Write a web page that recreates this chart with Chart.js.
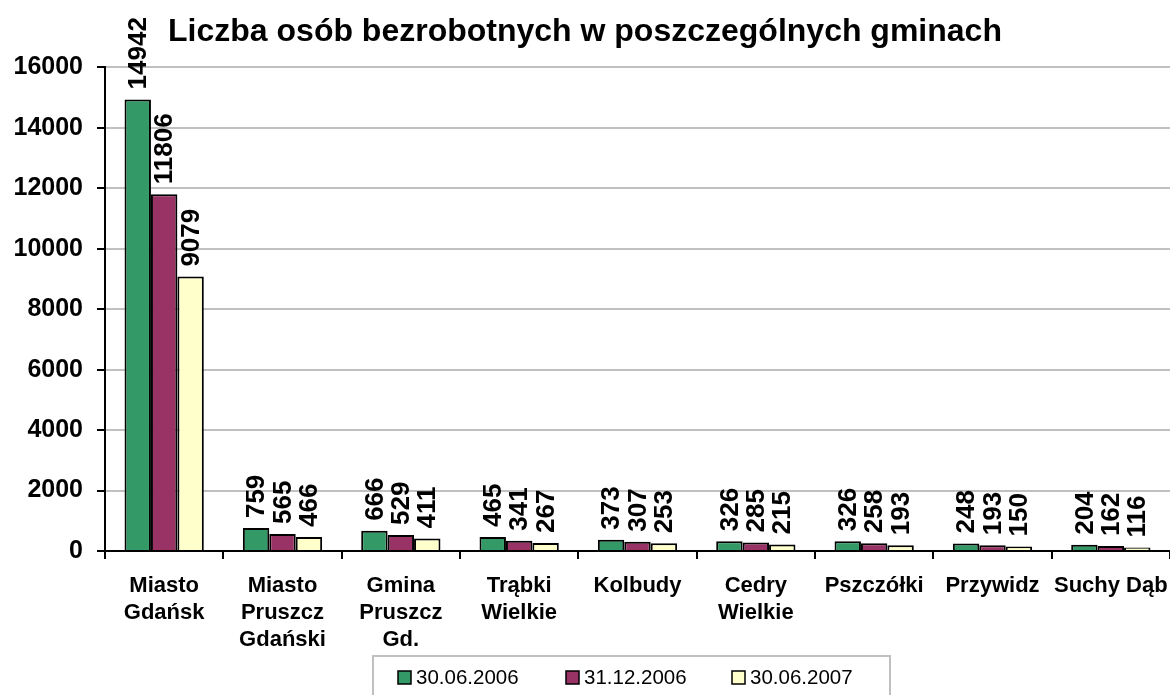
<!DOCTYPE html>
<html>
<head>
<meta charset="utf-8">
<script src="https://cdn.jsdelivr.net/npm/chart.js@4.4.1/dist/chart.umd.min.js"></script>
<style>
html,body{margin:0;padding:0;background:#fff;}
#wrap{width:1170px;height:695px;position:relative;}
</style>
</head>
<body>
<div id="wrap"><canvas id="c" width="1170" height="695"></canvas></div>
<script>
const categories = [
  ["Miasto","Gdańsk"],
  ["Miasto","Pruszcz","Gdański"],
  ["Gmina","Pruszcz","Gd."],
  ["Trąbki","Wielkie"],
  ["Kolbudy"],
  ["Cedry","Wielkie"],
  ["Pszczółki"],
  ["Przywidz"],
  ["Suchy Dąb"]
];
const seriesNames = ["30.06.2006","31.12.2006","30.06.2007"];
const values2006a = [14942, 759, 666, 465, 373, 326, 326, 248, 204];
const values2006b = [11806, 565, 529, 341, 307, 285, 258, 193, 162];
const values2007a = [9079, 466, 411, 267, 253, 215, 193, 150, 116];
const seriesColors = ["#339966", "#993366", "#FFFFCC"];
const yTicks = [0, 2000, 4000, 6000, 8000, 10000, 12000, 14000, 16000];

const FONT = "'Liberation Sans', Arial, sans-serif";

const dataLabels = {
  id: 'dataLabels',
  afterDatasetsDraw(chart) {
    const ctx = chart.ctx;
    ctx.save();
    ctx.font = "bold 26px " + FONT;
    ctx.fillStyle = "#000";
    ctx.textAlign = "left";
    ctx.textBaseline = "middle";
    chart.data.datasets.forEach((ds, i) => {
      const meta = chart.getDatasetMeta(i);
      meta.data.forEach((el, j) => {
        ctx.save();
        ctx.translate(el.x + 1, el.y - 10);
        ctx.rotate(-Math.PI / 2);
        ctx.fillText(String(ds.data[j]), 0, 0);
        ctx.restore();
      });
    });
    ctx.restore();
  }
};

const boxLegend = {
  id: 'boxLegend',
  afterDraw(chart) {
    const ctx = chart.ctx;
    ctx.save();
    ctx.strokeStyle = "#c0c0c0";
    ctx.lineWidth = 2;
    ctx.strokeRect(373, 656, 517, 50);
    ctx.font = "20.5px " + FONT;
    ctx.textBaseline = "middle";
    ctx.textAlign = "left";
    const xs = [398, 566, 732];
    chart.data.datasets.forEach((ds, i) => {
      const x = xs[i];
      ctx.fillStyle = ds.backgroundColor;
      ctx.fillRect(x, 671, 13, 13);
      ctx.strokeStyle = "#000";
      ctx.lineWidth = 1.5;
      ctx.strokeRect(x, 671, 13, 13);
      ctx.fillStyle = "#000";
      ctx.fillText(ds.label, x + 18, 678);
    });
    ctx.restore();
  }
};

new Chart(document.getElementById('c'), {
  type: 'bar',
  data: {
    labels: categories,
    datasets: seriesNames.map((name, i) => ({
      label: name,
      data: [values2006a, values2006b, values2007a][i],
      backgroundColor: seriesColors[i],
      borderColor: "#000",
      borderWidth: 2,
      categoryPercentage: 0.67,
      barPercentage: 1.0
    }))
  },
  options: {
    responsive: false,
    animation: false,
    devicePixelRatio: 1,
    layout: { padding: { left: 0, right: 0, top: 0, bottom: 0 } },
    plugins: {
      legend: { display: false },
      tooltip: { enabled: false },
      title: {
        display: true,
        text: "Liczba osób bezrobotnych w poszczególnych gminach",
        color: "#000",
        font: { family: FONT, size: 32, weight: 'bold', lineHeight: 1.2 },
        padding: { top: 13, bottom: 16 }
      }
    },
    scales: {
      x: {
        offset: true,
        afterFit(scale) { scale.height = 144; scale.paddingLeft = 0; scale.paddingRight = 0; },
        grid: {
          offset: true,
          drawOnChartArea: false,
          drawTicks: true,
          tickLength: 8,
          color: "#000",
          lineWidth: 2
        },
        border: { color: "#000", width: 2 },
        ticks: {
          color: "#000",
          padding: 13,
          maxRotation: 0,
          autoSkip: false,
          font: { family: FONT, size: 22, weight: 'bold', lineHeight: 1.23 }
        }
      },
      y: {
        min: 0,
        max: 16000,
        afterFit(scale) { scale.width = 105; },
        afterBuildTicks(scale) { scale.ticks = yTicks.map(v => ({ value: v })); },
        grid: {
          color: (c) => (c.tick && c.tick.value === 0) ? "#000" : "#c0c0c0",
          lineWidth: 2,
          tickColor: "#000",
          tickLength: 8
        },
        border: { color: "#000", width: 2 },
        ticks: {
          color: "#000",
          padding: 14,
          callback: (v) => String(v),
          font: { family: FONT, size: 25, weight: 'bold' }
        }
      }
    }
  },
  plugins: [dataLabels, boxLegend]
});
</script>
</body>
</html>
